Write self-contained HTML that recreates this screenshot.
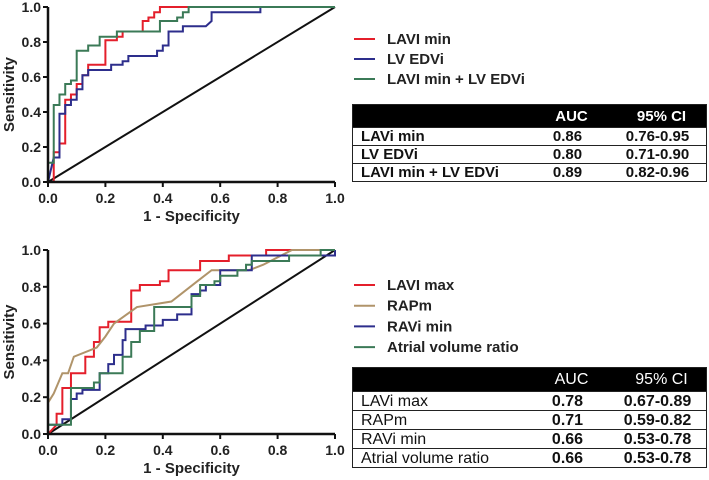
<!DOCTYPE html>
<html><head><meta charset="utf-8"><style>
body{margin:0;background:#fff;width:709px;height:480px;overflow:hidden;font-family:"Liberation Sans",Arial,sans-serif}
svg{position:absolute;left:0;top:0}
table{position:absolute;border-collapse:collapse;font-family:"Liberation Sans",Arial,sans-serif;font-size:15px;color:#111;border:1.5px solid #222}
td{border-top:1.5px solid #222;border-bottom:1.5px solid #222;padding:0 0 0 8px;height:17px;line-height:17px}
td.n{text-align:center;font-weight:bold;padding:0}
tr.h td{background:#000;color:#fff;font-weight:bold;text-align:center}
</style></head><body>
<svg id="svg" width="709" height="480"></svg>

<table style="left:352px;top:104px;width:355px;font-weight:bold">
<tr class="h" style="height:23px"><td style="width:165px"></td><td style="width:75px">AUC</td><td>95% CI</td></tr>
<tr><td>LAVi min</td><td class="n">0.86</td><td class="n">0.76-0.95</td></tr>
<tr><td>LV EDVi</td><td class="n">0.80</td><td class="n">0.71-0.90</td></tr>
<tr><td>LAVI min + LV EDVi</td><td class="n">0.89</td><td class="n">0.82-0.96</td></tr>
</table>
<table style="left:352px;top:367px;width:355px;font-size:16px">
<tr class="h" style="height:24px"><td style="width:165px"></td><td style="width:75px;font-weight:normal">AUC</td><td style="font-weight:normal">95% CI</td></tr>
<tr style="height:19px"><td>LAVi max</td><td class="n">0.78</td><td class="n">0.67-0.89</td></tr>
<tr style="height:19px"><td>RAPm</td><td class="n">0.71</td><td class="n">0.59-0.82</td></tr>
<tr style="height:19px"><td>RAVi min</td><td class="n">0.66</td><td class="n">0.53-0.78</td></tr>
<tr style="height:19px"><td>Atrial volume ratio</td><td class="n">0.66</td><td class="n">0.53-0.78</td></tr>
</table>

<script>
const ticks = [0, 0.2, 0.4, 0.6, 0.8, 1.0];
const tickLabels = ["0.0","0.2","0.4","0.6","0.8","1.0"];
// top panel
const topNames = ["LAVI min","LV EDVi","LAVI min + LV EDVi"];
const topColors = ["#e41f2b","#2d2e8c","#3b7a57"];
const lavimin_x = [0,0.02,0.02,0.04,0.04,0.06,0.06,0.08,0.08,0.1,0.1,0.12,0.12,0.14,0.14,0.2,0.2,0.24,0.24,0.26,0.26,0.33,0.33,0.35,0.35,0.37,0.37,0.39,0.39,1];
const lavimin_y = [0,0,0.17,0.17,0.22,0.22,0.47,0.47,0.5,0.5,0.56,0.56,0.61,0.61,0.67,0.67,0.81,0.81,0.83,0.83,0.86,0.86,0.92,0.92,0.94,0.94,0.97,0.97,1,1];
const lvedvi_x = [0,0.02,0.04,0.04,0.06,0.06,0.08,0.08,0.1,0.1,0.12,0.12,0.14,0.14,0.22,0.22,0.26,0.26,0.28,0.28,0.38,0.38,0.4,0.4,0.42,0.42,0.47,0.47,0.55,0.57,0.57,0.74,0.74,1];
const lvedvi_y = [0,0.14,0.14,0.39,0.39,0.44,0.44,0.47,0.47,0.53,0.53,0.61,0.61,0.64,0.64,0.67,0.67,0.69,0.69,0.72,0.72,0.75,0.75,0.78,0.78,0.86,0.86,0.89,0.89,0.92,0.97,0.97,1,1];
const combo_x = [0,0,0.02,0.02,0.04,0.04,0.06,0.06,0.08,0.08,0.1,0.1,0.14,0.14,0.18,0.18,0.24,0.24,0.39,0.39,0.45,0.45,0.47,0.47,0.49,0.49,1];
const combo_y = [0,0.11,0.11,0.44,0.44,0.5,0.5,0.56,0.56,0.58,0.58,0.75,0.75,0.78,0.78,0.83,0.83,0.86,0.86,0.92,0.92,0.94,0.94,0.97,0.97,1,1];
// bottom panel
const botNames = ["LAVI max","RAPm","RAVi min","Atrial volume ratio"];
const botColors = ["#e41f2b","#b0946a","#2d2e8c","#3b7a57"];
const lavimax_x = [0,0.03,0.03,0.05,0.05,0.08,0.08,0.13,0.13,0.16,0.16,0.18,0.18,0.21,0.21,0.29,0.29,0.32,0.32,0.39,0.39,0.42,0.42,0.53,0.53,0.63,0.63,0.76,0.76,1];
const lavimax_y = [0,0.05,0.11,0.11,0.25,0.25,0.33,0.33,0.42,0.42,0.5,0.5,0.58,0.58,0.61,0.61,0.78,0.78,0.81,0.81,0.83,0.83,0.89,0.89,0.94,0.94,0.97,0.97,1,1];
const rapm_x = [0,0,0.02,0.05,0.07,0.09,0.17,0.2,0.23,0.31,0.43,0.52,0.57,0.7,0.75,0.85,1];
const rapm_y = [0,0.17,0.22,0.33,0.33,0.42,0.47,0.53,0.6,0.69,0.72,0.83,0.89,0.89,0.92,1,1];
const ravimin_x = [0,0,0.05,0.05,0.08,0.08,0.1,0.1,0.12,0.12,0.18,0.18,0.21,0.21,0.23,0.23,0.26,0.26,0.27,0.27,0.34,0.34,0.4,0.4,0.45,0.45,0.5,0.5,0.53,0.53,0.55,0.55,0.6,0.6,0.71,0.71,1,1];
const ravimin_y = [0,0.05,0.05,0.08,0.08,0.19,0.19,0.22,0.22,0.24,0.24,0.33,0.33,0.38,0.38,0.43,0.43,0.51,0.51,0.57,0.57,0.59,0.59,0.62,0.62,0.65,0.65,0.76,0.76,0.78,0.78,0.81,0.81,0.89,0.89,0.97,0.97,1];
const avr_x = [0,0,0.08,0.08,0.16,0.16,0.18,0.18,0.26,0.26,0.29,0.29,0.32,0.32,0.37,0.37,0.5,0.5,0.53,0.53,0.58,0.58,0.6,0.6,0.66,0.66,0.69,0.69,0.71,0.71,0.84,0.84,0.95,0.95,1];
const avr_y = [0,0.05,0.05,0.25,0.25,0.28,0.28,0.33,0.33,0.42,0.42,0.5,0.5,0.56,0.56,0.69,0.69,0.75,0.75,0.81,0.81,0.83,0.83,0.86,0.86,0.89,0.89,0.92,0.92,0.94,0.94,0.97,0.97,1,1];

const NS="http://www.w3.org/2000/svg";
const svg=document.getElementById('svg');
function mk(tag,attrs,parent){const e=document.createElementNS(NS,tag);for(const k in attrs)e.setAttribute(k,attrs[k]);(parent||svg).appendChild(e);return e;}

function panel(p, seriesX, seriesY, colors, names, legendY, legendStep){
  const sx=v=>p.x0+v*(p.x1-p.x0), sy=v=>p.y0-v*(p.y0-p.y1);
  const g=mk('g',{});
  
  
  const d=mk('line',{x1:sx(0),y1:sy(0),x2:sx(1),y2:sy(1),stroke:'#111','stroke-width':2},g);
  
  
  seriesX.forEach((xs,i)=>{
    const pts=xs.map((x,j)=>sx(x)+','+sy(seriesY[i][j])).join(' ');
    const pl=mk('polyline',{points:pts,fill:'none',stroke:colors[i],'stroke-width':2},g);
    
    
  });
  const ax=mk('path',{d:`M${sx(0)},${sy(1)}V${sy(0)}H${sx(1)}`,fill:'none',stroke:'#111','stroke-width':2.5},g);
  
  
  ticks.forEach((t,i)=>{
    mk('line',{x1:sx(0)-5,y1:sy(t),x2:sx(0),y2:sy(t),stroke:'#111','stroke-width':2},g);
    mk('line',{x1:sx(t),y1:sy(0),x2:sx(t),y2:sy(0)+5,stroke:'#111','stroke-width':2},g);
    const yl=mk('text',{x:sx(0)-7,y:sy(t)+5,'text-anchor':'end','font-size':14,'font-weight':'bold',fill:'#222'},g);
    yl.textContent=tickLabels[i];
    
    
    const xl=mk('text',{x:sx(t),y:sy(0)+21,'text-anchor':'middle','font-size':14,'font-weight':'bold',fill:'#222'},g);
    xl.textContent=tickLabels[i];
    
    
  });
  const xt=mk('text',{x:(sx(0)+sx(1))/2,y:sy(0)+39,'text-anchor':'middle','font-size':15,'font-weight':'bold',fill:'#222'},g);
  xt.textContent='1 - Specificity';
  
  
  const cy=(sy(0)+sy(1))/2;
  const yt=mk('text',{x:14,y:cy,'text-anchor':'middle','font-size':15,'font-weight':'bold',fill:'#222',transform:`rotate(-90 14 ${cy})`},g);
  yt.textContent='Sensitivity';
  
  
  names.forEach((n,i)=>{
    const y=legendY+i*legendStep;
    const le=mk('g',{},g);
    
    
    mk('line',{x1:354,y1:y,x2:375,y2:y,stroke:colors[i],'stroke-width':2},le);
    const t=mk('text',{x:387,y:y+5,'font-size':15,'font-weight':'bold',fill:'#222'},le);
    t.textContent=n;
  });
}
panel({name:'top-roc-chart',x0:48,x1:335,y0:182,y1:7},[lavimin_x,lvedvi_x,combo_x],[lavimin_y,lvedvi_y,combo_y],topColors,topNames,39,20);
panel({name:'bottom-roc-chart',x0:48,x1:335,y0:434,y1:250},[lavimax_x,rapm_x,ravimin_x,avr_x],[lavimax_y,rapm_y,ravimin_y,avr_y],botColors,botNames,285,20.7);
</script>
</body></html>
